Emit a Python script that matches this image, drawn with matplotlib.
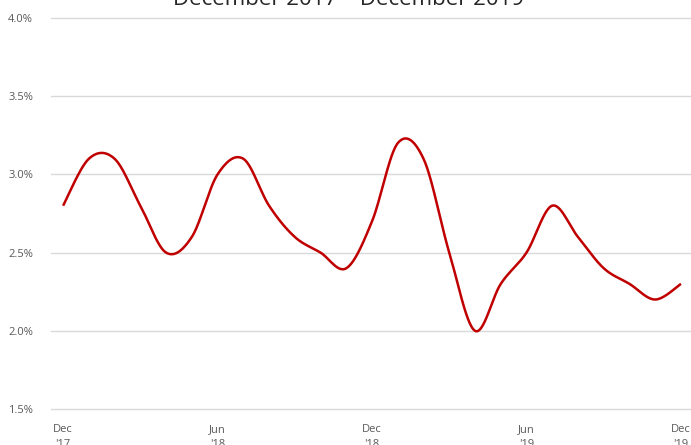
"""Monthly rate, Dec 2017 - Dec 2019, smoothed line (Excel-style)."""
import numpy as np
import matplotlib
matplotlib.use("Agg")
import matplotlib.pyplot as plt

MONTHS = list(range(25))  # Dec '17 .. Dec '19
RATE = [2.8, 3.1, 3.1, 2.8, 2.5, 2.6, 3.0, 3.1, 2.8, 2.6, 2.5, 2.4,
        2.7, 3.2, 3.1, 2.5, 2.0, 2.3, 2.5, 2.8, 2.6, 2.4, 2.3, 2.2, 2.3]
TICK_POS = [0, 6, 12, 18, 24]
TICK_LAB = ["Dec\n'17", "Jun\n'18", "Dec\n'18", "Jun\n'19", "Dec\n'19"]
YTICKS = [1.5, 2.0, 2.5, 3.0, 3.5, 4.0]
TITLE = "December 2017 \u2013 December 2019"


def smooth(x, y, n=30):
    # Excel-like smoothing: cubic Bezier with control points from neighbours (/6)
    x = np.asarray(x, float); y = np.asarray(y, float)
    px = np.concatenate([[x[0]], x, [x[-1]]])
    py = np.concatenate([[y[0]], y, [y[-1]]])
    t = np.linspace(0, 1, n)[:, None]
    xs, ys = [], []
    for i in range(1, len(px) - 2):
        p0 = np.array([px[i], py[i]]); p3 = np.array([px[i + 1], py[i + 1]])
        c1 = p0 + (np.array([px[i + 1], py[i + 1]]) - np.array([px[i - 1], py[i - 1]])) / 6
        c2 = p3 - (np.array([px[i + 2], py[i + 2]]) - np.array([px[i], py[i]])) / 6
        b = ((1 - t) ** 3) * p0 + 3 * ((1 - t) ** 2) * t * c1 + 3 * (1 - t) * t ** 2 * c2 + t ** 3 * p3
        xs.append(b[:, 0]); ys.append(b[:, 1])
    return np.concatenate(xs), np.concatenate(ys)


plt.rcParams["font.family"] = ["Open Sans", "DejaVu Sans"]
fig = plt.figure(figsize=(6.91, 4.45), dpi=100)
ax = fig.add_axes([51 / 691, 36 / 445, 1 - 51 / 691, 391 / 445])

sx, sy = smooth(MONTHS, RATE)
ax.plot(sx, sy, color="#c00000", lw=1.8, solid_capstyle="butt", zorder=3)

ax.set_xlim(-0.47, 24.39)
ax.set_ylim(1.5, 4.0)
ax.set_yticks(YTICKS)
ax.set_yticklabels([f"{v:.1f}%" for v in YTICKS])
ax.set_xticks(TICK_POS)
ax.set_xticklabels(TICK_LAB, linespacing=1.5)
ax.grid(axis="y", color="#d9d9d9", lw=1)
for gl in ax.get_ygridlines():
    gl.set_clip_on(False)
ax.set_axisbelow(True)
for s in ax.spines.values():
    s.set_visible(False)
ax.tick_params(length=0, labelsize=8, colors="#595959")
ax.tick_params(axis="x", pad=11)
ax.tick_params(axis="y", pad=13)

fig.text(0.505, 1 - 5 / 445, TITLE, ha="center", va="baseline", fontsize=16, color="#262626")

fig.savefig("out.png", dpi=100)
